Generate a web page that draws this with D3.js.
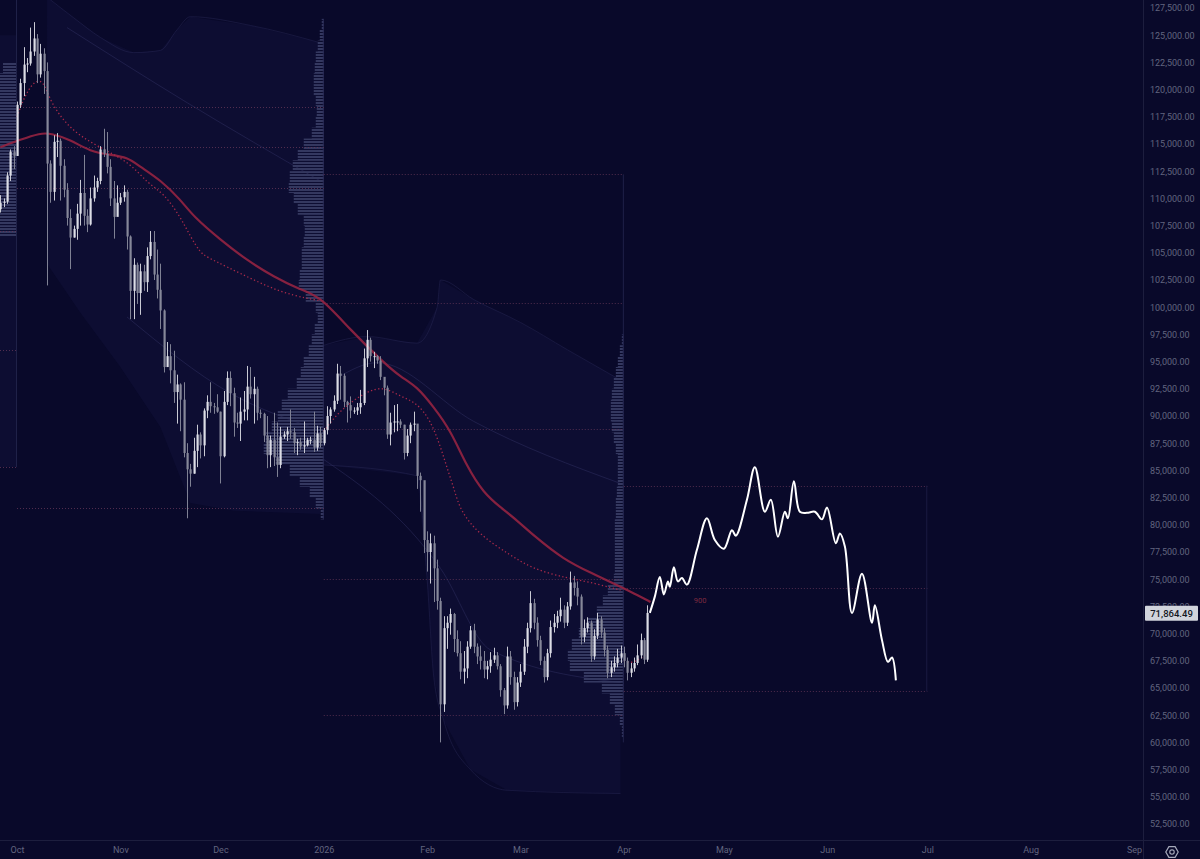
<!DOCTYPE html>
<html><head><meta charset="utf-8">
<script src="https://cdn.jsdelivr.net/npm/d3@7"></script>
<style>html,body{margin:0;padding:0;background:#09092a;overflow:hidden}svg{display:block}</style>
</head><body><svg id="c" width="1200" height="859"></svg>
<script>
// ---------------- DATA ----------------
const candleStart = "2025-09-26";
const firstOpen = 109.0;
// daily closes (thousands USD), Sep 26 2025 .. Apr 8 2026
const closes = [109.6,109.7,112.1,114.3,113.9,
118.6,120.6,122.3,122.4,123.5,124.7,121.4,123.3,121.7,113.2,110.6,115.2,115.3,113.0,110.8,108.2,106.4,107.2,108.6,110.5,108.4,107.6,110.0,111.0,111.6,114.5,114.1,112.9,110.0,108.3,109.6,
110.1,110.6,106.5,101.5,103.9,101.3,103.3,102.3,104.7,106.0,103.0,101.6,99.7,94.5,95.5,94.2,92.2,92.9,91.5,86.6,85.1,84.7,86.8,88.3,87.3,90.5,91.3,90.9,90.8,90.4,
86.3,91.3,93.5,92.1,89.4,89.3,90.4,90.6,92.7,92.0,92.5,90.3,90.2,88.2,86.4,87.8,86.2,85.5,88.1,88.3,88.6,88.5,87.5,87.6,87.2,87.3,87.8,87.8,87.1,88.4,87.5,
88.7,90.0,90.6,91.4,93.9,93.7,91.3,91.0,90.5,90.5,90.8,91.2,95.3,97.0,95.5,95.5,95.1,93.6,92.6,88.3,89.4,89.5,89.5,89.2,86.6,88.2,89.2,89.3,84.5,84.1,78.6,
77.5,78.3,76.0,73.0,63.5,70.5,71.0,71.8,69.5,68.2,66.5,66.8,68.8,70.3,68.8,67.9,67.5,66.7,67.0,67.6,68.0,67.0,64.8,63.4,67.9,66.0,63.7,65.5,
66.5,68.8,70.5,72.8,71.0,69.4,67.5,66.0,68.2,70.6,71.0,71.6,72.2,71.0,72.5,74.7,74.2,73.4,69.7,70.5,71.0,67.9,69.8,71.3,70.1,68.5,66.4,66.9,67.3,67.8,68.2,
67.5,66.4,66.8,67.3,68.0,69.4,67.6,71.9];
const highs = [110.3,110.0,112.4,114.5,114.8,
118.9,121.0,123.9,122.9,125.7,126.2,125.1,124.2,123.8,122.5,113.5,115.8,116.0,115.5,113.6,111.4,109.0,107.5,109.5,111.7,114.0,109.0,111.0,112.1,111.9,114.8,116.4,116.1,113.6,111.6,111.2,
110.5,111.2,110.8,106.6,104.5,104.1,104.0,103.9,105.5,107.0,107.0,105.3,104.0,99.8,96.8,96.6,96.0,93.8,93.0,93.1,87.5,85.6,88.0,89.2,88.5,90.7,91.9,93.1,91.2,92.0,
90.4,92.3,94.1,94.1,92.6,90.3,91.7,92.3,94.6,94.5,93.6,92.7,90.6,90.3,90.0,88.2,90.3,89.4,89.0,88.6,89.0,90.6,88.9,87.9,88.0,89.5,88.0,88.1,90.4,89.1,89.0,
88.9,90.9,90.8,91.9,94.8,94.6,93.9,91.4,91.8,90.8,91.2,92.4,96.2,97.9,97.2,95.9,95.6,95.5,93.5,92.8,90.3,91.0,91.1,89.7,89.2,88.8,89.4,90.4,89.2,84.8,84.0,
79.4,79.2,79.0,76.8,73.3,71.6,71.6,72.3,71.9,70.3,69.3,68.4,69.3,70.7,70.9,69.1,68.9,68.4,67.5,68.3,68.7,68.3,67.2,65.0,68.8,68.4,66.5,66.0,
67.2,69.5,71.0,73.9,73.2,71.5,69.8,67.9,68.6,71.2,71.8,72.1,73.3,72.6,72.9,75.7,75.3,74.8,73.6,71.3,71.5,71.2,70.4,71.9,71.6,70.5,68.9,67.5,67.9,68.6,68.9,
68.8,67.8,67.3,67.8,69.0,70.0,69.6,72.6];
const lows = [108.7,109.2,109.5,111.6,112.7,
113.9,118.3,119.4,121.6,122.2,123.1,120.6,121.1,119.6,102.0,109.6,109.8,113.8,109.8,110.1,107.5,103.5,106.4,106.2,107.5,107.5,106.9,107.5,109.7,110.6,111.3,113.8,112.3,109.3,106.3,108.7,
109.4,109.7,105.3,98.9,98.9,100.3,99.3,101.5,101.4,104.4,102.5,100.8,98.0,94.0,94.5,93.0,91.2,89.3,88.6,86.2,80.6,83.5,84.7,85.3,86.1,86.3,89.8,90.3,90.2,90.3,
83.8,86.2,91.0,90.9,88.1,88.9,87.7,89.6,89.6,91.6,89.3,89.6,89.8,87.6,85.2,85.3,85.4,84.4,85.2,87.9,87.7,87.9,86.6,86.4,86.9,86.6,87.2,87.4,86.7,86.8,87.1,
87.3,88.3,89.3,90.4,91.1,91.5,90.8,89.4,89.8,90.2,90.1,90.2,91.0,94.5,95.0,94.4,94.8,93.3,91.9,87.9,87.3,88.5,88.6,88.9,86.0,86.3,87.5,88.6,83.3,81.2,77.4,
75.7,74.6,72.9,72.2,60.0,62.8,68.6,69.9,68.3,67.9,65.8,65.4,65.9,68.6,68.2,67.2,66.7,65.9,65.8,66.4,67.3,66.7,64.2,62.6,63.1,65.3,63.0,63.3,
65.1,66.2,68.2,70.1,70.4,68.8,67.1,65.5,65.7,67.8,70.1,70.5,71.1,70.5,70.7,72.2,73.5,72.6,69.0,69.2,70.1,67.4,67.6,69.5,69.6,67.9,65.9,66.0,66.5,66.9,67.3,
66.9,65.7,66.0,66.5,67.1,67.7,67.2,67.4];

// long moving average (thick red)
const maLine = [["2025-09-26",114.7],["2025-10-02",115.4],["2025-10-08",116.0],["2025-10-11",116.0],["2025-10-17",115.4],["2025-10-23",114.3],["2025-10-29",114.0],["2025-11-03",113.8],["2025-11-07",112.9],["2025-11-13",111.7],["2025-11-19",109.9],["2025-11-23",108.3],["2025-12-01",106.2],["2025-12-09",104.3],["2025-12-17",102.8],["2025-12-25",101.6],["2025-12-31",101.0],["2026-01-09",97.9],["2026-01-19",94.9],["2026-01-24",93.6],["2026-01-29",92.7],["2026-02-03",90.8],["2026-02-08",88.7],["2026-02-13",85.3],["2026-02-18",82.9],["2026-02-23",81.6],["2026-02-28",80.4],["2026-03-05",79.0],["2026-03-14",76.8],["2026-03-22",75.6],["2026-03-31",74.3],["2026-04-04",73.7],["2026-04-09",72.9]];
// anchored VWAPs (dotted red)
const vwapQ4 = [["2025-10-01",117.5],["2025-10-03",119.2],["2025-10-06",120.8],["2025-10-09",120.9],["2025-10-11",118.8],["2025-10-17",116.3],["2025-10-25",114.8],["2025-11-04",113.3],["2025-11-09",111.4],["2025-11-14",110.5],["2025-11-19",108.3],["2025-11-22",106.5],["2025-11-25",105.0],["2025-11-27",104.6],["2025-12-03",103.7],["2025-12-11",102.5],["2025-12-19",101.4],["2025-12-27",100.8],["2025-12-31",100.6]];
const vwapQ1 = [["2026-01-01",88.6],["2026-01-06",90.6],["2026-01-14",92.3],["2026-01-19",92.7],["2026-01-24",91.8],["2026-01-29",91.2],["2026-02-02",89.6],["2026-02-05",87.2],["2026-02-07",85.2],["2026-02-09",83.4],["2026-02-11",81.2],["2026-02-17",79.0],["2026-02-26",77.2],["2026-03-05",75.9],["2026-03-15",75.1],["2026-03-21",74.8],["2026-03-31",74.0]];
const vwapQ2 = [["2026-04-01",67.5],["2026-04-03",67.3],["2026-04-05",67.5],["2026-04-08",68.2]];

// VWAP deviation bands (outer fill) and inner band lines
const q4Upper = [["2025-10-10",128.5],["2025-10-18",126.6],["2025-10-26",124.8],["2025-11-05",123.4],["2025-11-13",123.6],["2025-11-18",125.5],["2025-11-22",126.7],["2025-12-10",125.9],["2025-12-31",124.3]];
const q4Lower = [["2025-10-10",104.0],["2025-10-20",99.5],["2025-11-01",94.5],["2025-11-13",89.0],["2025-11-22",82.0],["2025-12-05",81.3],["2025-12-31",81.0]];
const q4InnerUp = [["2025-10-16",125.7],["2025-11-21",118.8],["2025-12-31",111.6]];
const q4InnerLow = [["2025-11-03",99.1],["2025-12-04",92.1],["2025-12-31",88.7]];
const q1Upper = [["2026-01-01",96.5],["2026-01-14",97.3],["2026-01-29",96.7],["2026-02-04",100.0],["2026-02-05",102.5],["2026-02-15",100.7],["2026-03-01",98.6],["2026-03-15",96.1],["2026-03-31",93.3]];
const q1Lower = [["2026-01-01",85.5],["2026-01-29",84.5],["2026-02-01",75.0],["2026-02-03",66.0],["2026-02-06",62.0],["2026-02-14",57.5],["2026-02-25",55.6],["2026-03-31",55.3]];
const q1InnerUp = [["2026-01-05",93.5],["2026-01-17",94.9],["2026-02-15",89.5],["2026-03-31",83.8]];
const q1InnerLow = [["2026-01-01",86.0],["2026-02-05",76.0],["2026-02-20",68.5],["2026-03-31",65.5]];

// session volume profiles: [price level (k), volume]
const profQ3 = [[122,14],[121,18],[120,22],[119,30],[118,34],[117,36],[116,38],[115,40],[114,40],[113,38],[112,36],[111,34],[110,30],[109,26],[108,22],[107,18]];
const profQ4 = [[126,2],[125,4],[124,6],[123,8],[122,9],[121,10],[120,10],[119,8],[118,7],[117,8],[116,12],[115,20],[114,26],[113,31],[112,34],[111,35],[110,30],[109,26],[108,20],[107,19],[106,20],[105,22],[104,22],[103,24],[102,25],[101,18],[100,8],[99,6],[98,9],[97,12],[96,15],[95,20],[94,23],[93,27],[92,36],[91,42],[90,46],[89,52],[88,58],[87,60],[86,48],[85,34],[84,24],[83,14],[82,8],[81,3]];
const profQ1 = [[97,2],[96,4],[95,6],[94,8],[93,10],[92,12],[91,13],[90,13],[89,12],[88,10],[87,8],[86,6],[85,6],[84,6],[83,7],[82,8],[81,8],[80,9],[79,9],[78,9],[77,9],[76,9],[75,10],[74,16],[73,21],[72,27],[71,36],[70,45],[69,52],[68,56],[67,54],[66,40],[65,22],[64,14],[63,9],[62,4],[61,2]];

// session levels (dotted), price k
const levelsQ3 = [107.0, 96.1, 85.3];
const levelsQ4 = [118.4, 114.7, 111.0, 81.5];
const levelsQ1 = [112.2, 100.4, 88.8, 75.0, 62.5];
const levelsQ2 = [83.6, 74.2, 64.7];
const sessions = ["2025-07-01","2025-10-01","2026-01-01","2026-04-01","2026-07-01"];

// projected path (white)
const forecast = [["2026-04-08T19",71.9],["2026-04-10T07",73.4],["2026-04-11T19",75.2],["2026-04-13T00",73.6],["2026-04-14T05",74.8],["2026-04-14T19",74.3],["2026-04-16T00",76.1],["2026-04-17T05",74.8],["2026-04-18T10",75.1],["2026-04-19T22",74.5],["2026-04-22T22",77.7],["2026-04-25T22",80.6],["2026-04-28T07",78.6],["2026-05-01T00",77.8],["2026-05-03T10",79.5],["2026-05-04T14",79.0],["2026-05-07T22",82.3],["2026-05-10T07",85.3],["2026-05-13T07",81.2],["2026-05-15T02",82.3],["2026-05-17T05",78.9],["2026-05-19T07",81.2],["2026-05-20T05",80.6],["2026-05-22T00",84.0],["2026-05-23T19",81.2],["2026-05-25T22",81.1],["2026-05-28T07",81.2],["2026-05-30T10",80.5],["2026-05-31T22",81.6],["2026-06-03T14",78.3],["2026-06-04T19",79.2],["2026-06-06T07",78.0],["2026-06-08T10",71.9],["2026-06-11T10",75.5],["2026-06-14T10",71.0],["2026-06-15T07",72.6],["2026-06-17T10",69.4],["2026-06-19T05",67.4],["2026-06-20T10",67.8],["2026-06-21T14",65.7]];

const priceTicks = [52500,55000,57500,60000,62500,65000,67500,70000,72500,75000,77500,80000,82500,85000,87500,90000,92500,95000,97500,100000,102500,105000,107500,110000,112500,115000,117500,120000,122500,125000,127500];
const monthTicks = ["2025-10-01","2025-11-01","2025-12-01","2026-01-01","2026-02-01","2026-03-01","2026-04-01","2026-05-01","2026-06-01","2026-07-01","2026-08-01","2026-09-01"];
const monthLabels = ["Oct","Nov","Dec","2026","Feb","Mar","Apr","May","Jun","Jul","Aug","Sep"];
const lastPrice = 71864.49;
const maLabel = "900";
const maLabelAt = ["2026-04-22", 72.8];

// ---------------- CHART ----------------
const W = 1200, H = 859, plotR = 1143, plotB = 840;
const pd = d3.utcParse("%Y-%m-%d"), ph = d3.utcParse("%Y-%m-%dT%H");
const x = d3.scaleUtc().domain([pd("2025-10-01"), pd("2026-09-01")]).range([17, 1134]);
const y = d3.scaleLinear().domain([52500, 127500]).range([824, 8]);
const K = v => v * 1000;

const svg = d3.select("#c");
svg.append("rect").attr("width", W).attr("height", H).attr("fill", "#09092a");
const defs = svg.append("defs");
defs.append("clipPath").attr("id", "plot").append("rect").attr("width", plotR).attr("height", plotB);
const pat = defs.append("pattern").attr("id", "stripes").attr("patternUnits", "userSpaceOnUse")
  .attr("width", 8).attr("height", 3);
pat.append("rect").attr("width", 8).attr("height", 2).attr("fill", "#343860");

const g = svg.append("g").attr("clip-path", "url(#plot)");
const ptX = d => x(pd(d[0])), ptY = d => y(K(d[1]));

// band fills
function band(up, low) {
  const pts = up.map(d => [ptX(d), ptY(d)]).concat(low.slice().reverse().map(d => [ptX(d), ptY(d)]));
  g.append("path").attr("d", d3.line().curve(d3.curveLinearClosed)(pts))
    .attr("fill", "#4d4d9a").attr("fill-opacity", 0.07);
}
band(q4Upper, q4Lower);
band(q1Upper, q1Lower);
// left strip (previous session band)
g.append("rect").attr("x", x(pd("2025-09-26")) - 5).attr("width", x(pd(sessions[1])) - x(pd("2025-09-26")) + 5)
  .attr("y", y(K(125.0))).attr("height", y(K(85.3)) - y(K(125.0))).attr("fill", "#4d4d9a").attr("fill-opacity", 0.07);

const thinLine = d3.line().x(ptX).y(ptY).curve(d3.curveMonotoneX);
[q4Upper, q1Upper, q1Lower].forEach(a => g.append("path").attr("d", thinLine(a)).attr("fill", "none")
  .attr("stroke", "#2c2d5c").attr("stroke-opacity", 0.4).attr("stroke-width", 1));
[q4InnerUp, q4InnerLow, q1InnerUp, q1InnerLow].forEach(a => g.append("path").attr("d", thinLine(a)).attr("fill", "none")
  .attr("stroke", "#2f3062").attr("stroke-opacity", 0.5).attr("stroke-width", 1));

// volume profiles (anchored at session right edge, extending left)
const volW = d3.scaleLinear().domain([0, 60]).range([0, 60]);
function profile(data, endDate) {
  const xr = x(pd(endDate));
  g.append("g").selectAll("rect").data(data).join("rect")
    .attr("x", d => xr - volW(d[1])).attr("width", d => volW(d[1]))
    .attr("y", d => y(K(d[0] + 0.5))).attr("height", d => y(K(d[0] - 0.5)) - y(K(d[0] + 0.5)))
    .attr("fill", "url(#stripes)");
  g.append("line").attr("x1", xr - 0.5).attr("x2", xr - 0.5)
    .attr("y1", y(K(d3.max(data, d => d[0]) + 0.5))).attr("y2", y(K(d3.min(data, d => d[0]) - 0.5)))
    .attr("stroke", "#282a55").attr("stroke-width", 1);
}
profile(profQ3, sessions[1]);
profile(profQ4, sessions[2]);
profile(profQ1, sessions[3]);
// session box edges
g.append("line").attr("x1", x(pd(sessions[1])) - 0.5).attr("x2", x(pd(sessions[1])) - 0.5)
  .attr("y1", 0).attr("y2", y(K(85.3))).attr("stroke", "#1f2148");
g.append("line").attr("x1", x(pd(sessions[3])) - 0.5).attr("x2", x(pd(sessions[3])) - 0.5)
  .attr("y1", y(K(112.2))).attr("y2", y(K(60.0))).attr("stroke", "#1f2148");
g.append("line").attr("x1", x(pd(sessions[4])) - 0.5).attr("x2", x(pd(sessions[4])) - 0.5)
  .attr("y1", y(K(83.6))).attr("y2", y(K(64.7))).attr("stroke", "#1a1b42");

// session levels
function levels(arr, s, e, x0) {
  g.append("g").selectAll("line").data(arr).join("line")
    .attr("x1", x0 !== undefined ? x0 : x(pd(s))).attr("x2", x(pd(e)))
    .attr("y1", d => Math.round(y(K(d))) + 0.5).attr("y2", d => Math.round(y(K(d))) + 0.5)
    .attr("stroke", "#633656").attr("stroke-width", 1).attr("stroke-dasharray", "1,2").attr("stroke-opacity", 0.8);
}
levels(levelsQ3, sessions[0], sessions[1], 0);
levels(levelsQ4, sessions[1], sessions[2]);
levels(levelsQ1, sessions[2], sessions[3]);
levels(levelsQ2, sessions[3], sessions[4]);

// thick MA
g.append("path").attr("d", d3.line().x(ptX).y(ptY).curve(d3.curveBasis)(maLine))
  .attr("fill", "none").attr("stroke", "#952441").attr("stroke-width", 2.2).attr("stroke-opacity", 0.9);
// VWAP dotted
[vwapQ4, vwapQ1, vwapQ2].forEach(a => g.append("path").attr("d", d3.line().x(ptX).y(ptY).curve(d3.curveBasis)(a))
  .attr("fill", "none").attr("stroke", "#a82a4a").attr("stroke-width", 1.3).attr("stroke-dasharray", "1.3,2.4"));

// candles
const start = pd(candleStart);
const candles = closes.map((c, i) => ({
  date: d3.utcDay.offset(start, i),
  o: i === 0 ? firstOpen : closes[i - 1], c, h: highs[i], l: lows[i]
}));
const cg = g.append("g");
cg.selectAll("line").data(candles).join("line")
  .attr("x1", d => Math.round(x(d.date)) + 0.5).attr("x2", d => Math.round(x(d.date)) + 0.5)
  .attr("y1", d => y(K(d.h))).attr("y2", d => y(K(d.l)))
  .attr("stroke", d => d.c >= d.o ? "#c9cad4" : "#7f8194").attr("stroke-width", 1);
cg.selectAll("rect").data(candles).join("rect")
  .attr("x", d => Math.round(x(d.date)) - 0.5).attr("width", 2.2)
  .attr("y", d => y(K(Math.max(d.o, d.c))))
  .attr("height", d => Math.max(1, Math.abs(y(K(d.o)) - y(K(d.c)))))
  .attr("fill", d => d.c >= d.o ? "#dcdde5" : "#868899");

// MA label
g.append("text").attr("x", x(pd(maLabelAt[0]))).attr("y", y(K(maLabelAt[1])))
  .attr("fill", "#7e2a40").attr("font-family", "Roboto, sans-serif").attr("font-size", 7.5).text(maLabel);

// forecast
g.append("path").attr("d", d3.line().x(d => x(ph(d[0]))).y(ptY).curve(d3.curveCatmullRom.alpha(0.5))(forecast))
  .attr("fill", "none").attr("stroke", "#ffffff").attr("stroke-width", 2).attr("stroke-linejoin", "round");

// ---------------- AXES ----------------
svg.append("line").attr("x1", plotR + 0.5).attr("x2", plotR + 0.5).attr("y1", 0).attr("y2", H).attr("stroke", "#1d1e3e");
svg.append("line").attr("x1", 0).attr("x2", W).attr("y1", plotB + 0.5).attr("y2", plotB + 0.5).attr("stroke", "#1d1e3e");

const ly = y(lastPrice);
const yAxis = d3.axisRight(y).tickValues(priceTicks).tickFormat(d3.format(",.2f")).tickSize(0).tickPadding(0);
const ya = svg.append("g").attr("transform", `translate(1150,0)`).call(yAxis);
ya.select(".domain").remove();
ya.selectAll("text").attr("fill", "#62657f").attr("font-family", "Roboto, sans-serif").attr("font-size", 9).attr("x", 0);
// the label hidden behind the last-price tag is clipped to its visible top sliver
defs.append("clipPath").attr("id", "aboveTag").append("rect").attr("x", -10).attr("y", -20).attr("width", 70).attr("height", 20 + (ly - 8) - y(72500));
ya.selectAll(".tick").filter(d => Math.abs(y(d) - ly) < 12).select("text").attr("clip-path", "url(#aboveTag)");

const xAxis = d3.axisBottom(x).tickValues(monthTicks.map(pd)).tickFormat((d, i) => monthLabels[i]).tickSize(0).tickPadding(0);
const xa = svg.append("g").attr("transform", `translate(0,847)`).call(xAxis);
xa.select(".domain").remove();
xa.selectAll("text").attr("fill", "#62657f").attr("font-family", "Roboto, sans-serif").attr("font-size", 9);

// last price label
svg.append("rect").attr("x", 1145).attr("y", ly - 7.5).attr("width", 53).attr("height", 15).attr("rx", 1).attr("fill", "#d1d4dc");
svg.append("text").attr("x", 1171.5).attr("y", ly + 3.5).attr("text-anchor", "middle")
  .attr("fill", "#131722").attr("font-family", "Roboto, sans-serif").attr("font-size", 9.5).attr("font-weight", 500)
  .text(d3.format(",.2f")(lastPrice));

// settings icon
const ic = svg.append("g").attr("transform", "translate(1172,852)");
const hex = [0, 1, 2, 3, 4, 5].map(i => [6.2 * Math.cos(Math.PI / 3 * i), 6.2 * Math.sin(Math.PI / 3 * i)]);
ic.append("path").attr("d", d3.line().curve(d3.curveLinearClosed)(hex)).attr("fill", "none").attr("stroke", "#a6a9ba").attr("stroke-width", 1.2);
ic.append("circle").attr("r", 2.2).attr("fill", "none").attr("stroke", "#a6a9ba").attr("stroke-width", 1.2);
</script>
</body></html>
